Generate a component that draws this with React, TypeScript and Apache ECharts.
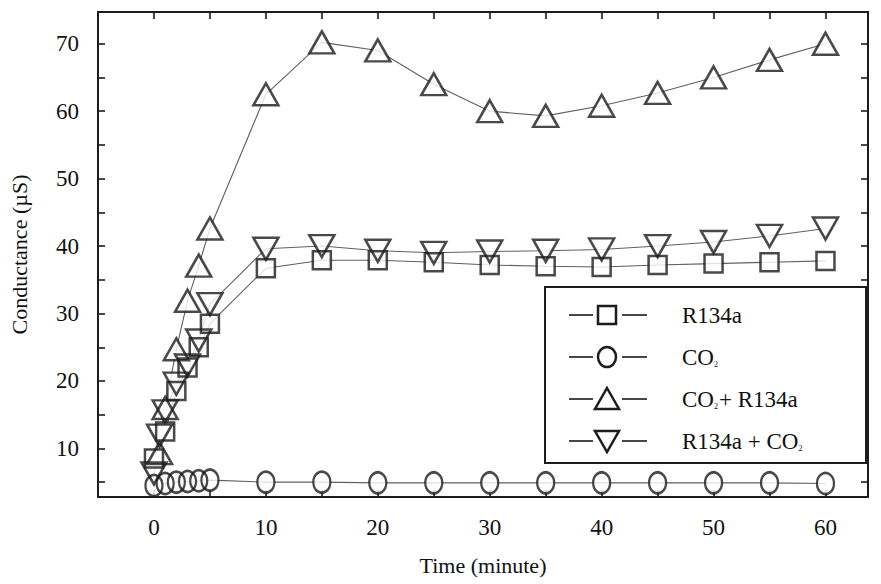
import React, { useEffect, useRef } from "react";
import * as echarts from "echarts";

// ---- data ----
const timesR134a = [0, 1, 2, 3, 4, 5, 10, 15, 20, 25, 30, 35, 40, 45, 50, 55, 60];
const valuesR134a = [8.5, 12.5, 18.5, 22, 25, 28.5, 36.7, 37.9, 37.9, 37.6, 37.2, 37, 36.9, 37.2, 37.4, 37.6, 37.8];

const timesCO2 = [0, 1, 2, 3, 4, 5, 10, 15, 20, 25, 30, 35, 40, 45, 50, 55, 60];
const valuesCO2 = [4.5, 4.8, 5.0, 5.1, 5.2, 5.3, 5.0, 5.0, 4.9, 4.9, 4.9, 4.9, 4.9, 4.9, 4.9, 4.9, 4.8];

const timesCO2R134a = [0.5, 1, 2, 3, 4, 5, 10, 15, 20, 25, 30, 35, 40, 45, 50, 55, 60];
const valuesCO2R134a = [9.3, 16, 24.7, 31.9, 37.1, 42.6, 62.5, 70.2, 69, 64, 60, 59.3, 60.8, 62.7, 65, 67.6, 70];

const timesR134aCO2 = [0, 0.5, 1, 2, 3, 4, 5, 10, 15, 20, 25, 30, 35, 40, 45, 50, 55, 60];
const valuesR134aCO2 = [6.3, 11.9, 15.5, 19.6, 22.3, 26, 31.4, 39.6, 40, 39.3, 39, 39.2, 39.3, 39.5, 40, 40.6, 41.5, 42.6];

const xTicks = [0, 5, 10, 15, 20, 25, 30, 35, 40, 45, 50, 55, 60];
const xLabels = [0, 10, 20, 30, 40, 50, 60];
const yTicks = [5, 10, 15, 20, 25, 30, 35, 40, 45, 50, 55, 60, 65, 70];
const yLabels = [10, 20, 30, 40, 50, 60, 70];

const legendNames = ["R134a", "CO{s|2}", "CO{s|2}+ R134a", "R134a + CO{s|2}"];

const FONT = "'Liberation Serif', 'DejaVu Serif', serif";
const INK = "#1c1c1c";
const LINE = "#606060";

type Group = {
  name: string;
  t: number[];
  v: number[];
  symbol: string;
  size: number | number[];
  rotate: number;
};

const groups: Group[] = [
  { name: "R134a", t: timesR134a, v: valuesR134a, symbol: "rect", size: 18, rotate: 0 },
  { name: "CO2", t: timesCO2, v: valuesCO2, symbol: "circle", size: [17, 21], rotate: 0 },
  { name: "CO2 + R134a", t: timesCO2R134a, v: valuesCO2R134a, symbol: "triangle", size: [25, 22], rotate: 0 },
  { name: "R134a + CO2", t: timesR134aCO2, v: valuesR134aCO2, symbol: "triangle", size: [25, 22], rotate: 180 },
];

function pairs(t: number[], v: number[]) {
  return t.map((x, i) => [x, v[i]]);
}

export default function App() {
  const ref = useRef<HTMLDivElement>(null);
  useEffect(() => {
    if (!ref.current) return;
    const chart = echarts.init(ref.current, null, { renderer: "svg" });

    const series: any[] = [];
    groups.forEach((g) => {
      series.push({
        type: "line",
        name: g.name + "-line",
        data: pairs(g.t, g.v),
        symbol: "none",
        lineStyle: { color: LINE, width: 1.1 },
        z: 1,
        silent: true,
      });
    });
    groups.forEach((g) => {
      series.push({
        type: "scatter",
        name: g.name + "-fill",
        data: pairs(g.t, g.v),
        symbol: g.symbol,
        symbolSize: g.size,
        symbolRotate: g.rotate,
        itemStyle: { color: "#ffffff", borderWidth: 0 },
        z: 2,
        silent: true,
      });
    });
    groups.forEach((g) => {
      series.push({
        type: "scatter",
        name: g.name,
        data: pairs(g.t, g.v),
        symbol: g.symbol,
        symbolSize: g.size,
        symbolRotate: g.rotate,
        itemStyle: { color: "rgba(0,0,0,0)", borderColor: INK, borderWidth: 2.5 },
        z: 3,
        silent: true,
      });
    });

    const axisCommon = {
      type: "value",
      axisLine: { show: true, onZero: false, lineStyle: { color: INK, width: 2 } },
      splitLine: { show: false },
    };

    // legend drawn with graphic
    const legX = 545, legY = 287, legW = 321, legH = 176;
    const rowYs = [315, 357, 399, 441];
    const symX = 607;
    const legendEls: any[] = [
      {
        type: "rect",
        shape: { x: legX, y: legY, width: legW, height: legH },
        style: { fill: "#fff", stroke: INK, lineWidth: 2 },
        z: 10,
      },
    ];
    rowYs.forEach((y, i) => {
      legendEls.push({ type: "line", shape: { x1: 569, y1: y, x2: 593, y2: y }, style: { stroke: "#333", lineWidth: 1.8 }, z: 11 });
      legendEls.push({ type: "line", shape: { x1: 622, y1: y, x2: 647, y2: y }, style: { stroke: "#333", lineWidth: 1.8 }, z: 11 });
      const st = { fill: "#fff", stroke: INK, lineWidth: 2.5 };
      if (i === 0) legendEls.push({ type: "rect", shape: { x: symX - 9, y: y - 9, width: 18, height: 18 }, style: st, z: 12 });
      if (i === 1) legendEls.push({ type: "ellipse", shape: { cx: symX, cy: y, rx: 9, ry: 10 }, style: st, z: 12 });
      if (i === 2)
        legendEls.push({ type: "polygon", shape: { points: [[symX, y - 11], [symX + 12, y + 10], [symX - 12, y + 10]] }, style: st, z: 12 });
      if (i === 3)
        legendEls.push({ type: "polygon", shape: { points: [[symX - 12, y - 10], [symX + 12, y - 10], [symX, y + 11]] }, style: st, z: 12 });
      legendEls.push({
        type: "text",
        x: 682,
        y: y,
        style: {
          text: legendNames[i],
          font: `23px ${FONT}`,
          fill: "#111",
          verticalAlign: "middle",
          rich: {
            s: { fontSize: 8, fontFamily: FONT, verticalAlign: "bottom", padding: [13, 1, 0, 0] },
          },
        },
        z: 12,
      });
    });

    chart.setOption({
      animation: false,
      backgroundColor: "#ffffff",
      grid: { left: 97, top: 12, right: 13, bottom: 87, containLabel: false },
      xAxis: [
        {
          ...axisCommon,
          position: "bottom",
          min: -5,
          max: 63.8,
          name: "Time (minute)",
          nameLocation: "middle",
          nameGap: 57,
          nameTextStyle: { fontFamily: FONT, fontSize: 22, color: "#111" },
          axisTick: { show: true, inside: true, length: 7, customValues: xTicks, lineStyle: { color: INK, width: 1.6 } },
          axisLabel: { show: true, customValues: xLabels, fontFamily: FONT, fontSize: 23, color: "#111", margin: 19 },
        },
        {
          ...axisCommon,
          position: "top",
          min: -5,
          max: 63.8,
          axisTick: { show: true, inside: true, length: 7, customValues: xTicks, lineStyle: { color: INK, width: 1.6 } },
          axisLabel: { show: false },
        },
      ],
      yAxis: [
        {
          ...axisCommon,
          position: "left",
          min: 2.8,
          max: 74.7,
          name: "Conductance (µS)",
          nameLocation: "middle",
          nameGap: 68,
          nameTextStyle: { fontFamily: FONT, fontSize: 22, color: "#111" },
          axisTick: { show: true, inside: true, length: 7, customValues: yTicks, lineStyle: { color: INK, width: 1.6 } },
          axisLabel: { show: true, customValues: yLabels, fontFamily: FONT, fontSize: 23, color: "#111", margin: 19 },
        },
        {
          ...axisCommon,
          position: "right",
          min: 2.8,
          max: 74.7,
          axisTick: { show: true, inside: true, length: 7, customValues: yTicks, lineStyle: { color: INK, width: 1.6 } },
          axisLabel: { show: false },
        },
      ],
      series,
      graphic: legendEls,
    });

    return () => chart.dispose();
  }, []);

  return (
    <div
      ref={ref}
      style={{ position: "fixed", left: 0, top: 0, width: 881, height: 584, background: "#fff" }}
    />
  );
}
